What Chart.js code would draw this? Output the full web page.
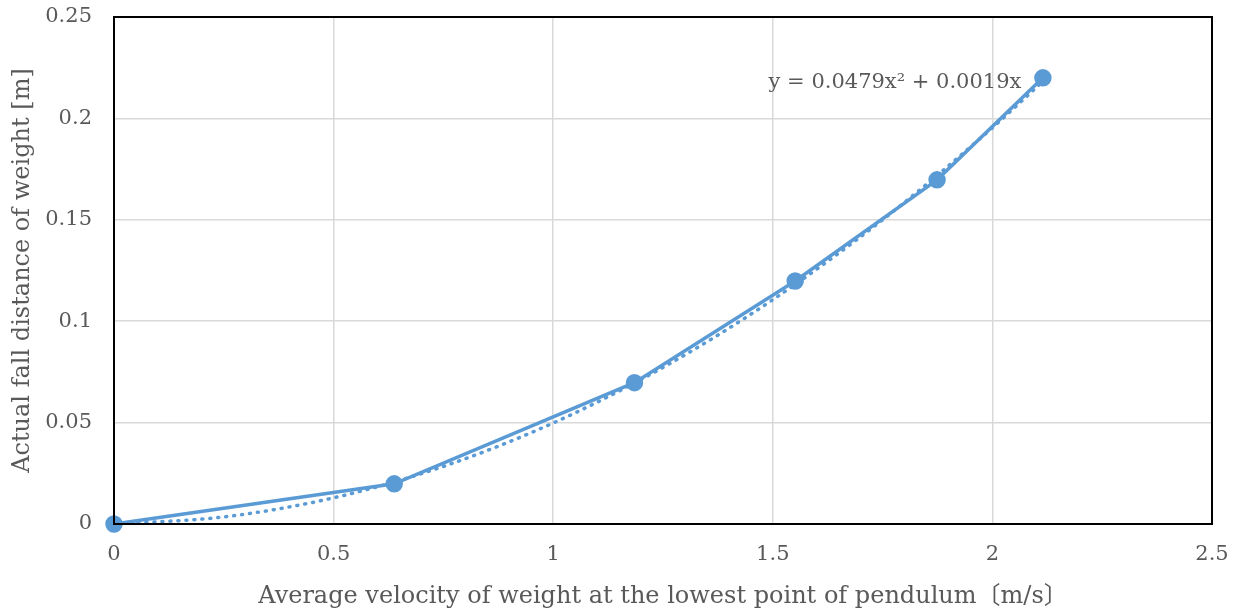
<!DOCTYPE html>
<html>
<head>
<meta charset="utf-8">
<script src="https://cdn.jsdelivr.net/npm/chart.js@4/dist/chart.umd.min.js"></script>
<style>
  html, body { margin: 0; padding: 0; background: #fff; }
  #wrap { width: 1240px; height: 615px; }
</style>
</head>
<body>
<div id="wrap"><canvas id="chart"></canvas></div>
<script>
// measured points
var velocity = [0, 0.638, 1.185, 1.551, 1.874, 2.115];
var fallDistance = [0, 0.0198, 0.0697, 0.1198, 0.1697, 0.2200];

// dotted trendline
var trendX = [0, 0.25, 0.5, 0.75, 1.0, 1.25, 1.5, 1.75, 2.0, 2.115];
var trendY = [0, 0.0035, 0.0129, 0.0284, 0.0498, 0.0772, 0.1106, 0.150, 0.1954, 0.2183];

var trendLabel = "y = 0.0479x\u00b2 + 0.0019x";

var xTicks = [0, 0.5, 1, 1.5, 2, 2.5];
var yTicks = [0, 0.05, 0.1, 0.15, 0.2, 0.25];

var blue = "#5b9bd5";
var textGray = "#595959";
var serif = "'DejaVu Serif', 'Noto Sans CJK JP', serif";

function pairs(xs, ys) {
	return xs.map(function (x, i) { return { x: x, y: ys[i] }; });
}

var frame = {
	id: "frame",
	afterDatasetsDraw: function (chart) {
		var a = chart.chartArea;
		var ctx = chart.ctx;
		ctx.save();
		ctx.strokeStyle = "#000";
		ctx.lineWidth = 2;
		ctx.strokeRect(a.left, a.top, a.right - a.left, a.bottom - a.top);
		// trendline equation
		var xs = chart.scales.x, ys = chart.scales.y;
		ctx.fillStyle = textGray;
		ctx.font = "21px " + serif;
		ctx.textAlign = "right";
		ctx.textBaseline = "middle";
		ctx.fillText(trendLabel, xs.getPixelForValue(2.066), ys.getPixelForValue(0.2175));
		ctx.restore();
	}
};

new Chart(document.getElementById("chart"), {
	type: "scatter",
	data: {
		datasets: [
			{
				label: "data",
				data: pairs(velocity, fallDistance),
				showLine: true,
				clip: false,
				borderColor: blue,
				backgroundColor: blue,
				borderWidth: 3.5,
				pointRadius: 7,
				pointHoverRadius: 7
			},
			{
				label: "trend",
				data: pairs(trendX, trendY),
				showLine: true,
				borderColor: blue,
				borderWidth: 3.5,
				borderDash: [1, 7],
				borderCapStyle: "round",
				cubicInterpolationMode: "monotone",
				pointRadius: 0
			}
		]
	},
	options: {
		responsive: true,
		maintainAspectRatio: false,
		animation: false,
		layout: { padding: { top: 17, right: 28, left: 0, bottom: 0 } },
		plugins: { legend: { display: false }, tooltip: { enabled: false } },
		scales: {
			x: {
				type: "linear",
				min: 0,
				max: 2.5,
				afterBuildTicks: function (s) { s.ticks = xTicks.map(function (v) { return { value: v }; }); },
				afterFit: function (s) { s.height = 91; s.paddingLeft = 0; s.paddingRight = 0; },
				grid: { color: "#d9d9d9", lineWidth: 1.5, drawTicks: false },
				border: { display: false },
				ticks: {
					color: textGray, font: { family: serif, size: 21 }, padding: 18, maxRotation: 0,
					callback: function (v) { return String(v); }
				},
				title: {
					display: true,
					text: "Average velocity of weight at the lowest point of pendulum\u3014m/s\u3015",
					color: textGray,
					font: { family: serif, size: 24 },
					padding: { top: 2, bottom: 4 }
				}
			},
			y: {
				type: "linear",
				min: 0,
				max: 0.25,
				afterBuildTicks: function (s) { s.ticks = yTicks.map(function (v) { return { value: v }; }); },
				afterFit: function (s) { s.width = 114; s.paddingTop = 0; s.paddingBottom = 0; },
				grid: { color: "#d9d9d9", lineWidth: 1.5, drawTicks: false },
				border: { display: false },
				ticks: {
					color: textGray, font: { family: serif, size: 21 }, padding: 22,
					callback: function (v) { return String(v); }
				},
				title: {
					display: true,
					text: "Actual fall distance of weight [m]",
					color: textGray,
					font: { family: serif, size: 24 },
					padding: { top: 8, bottom: 4 }
				}
			}
		}
	},
	plugins: [frame]
});
</script>
</body>
</html>
